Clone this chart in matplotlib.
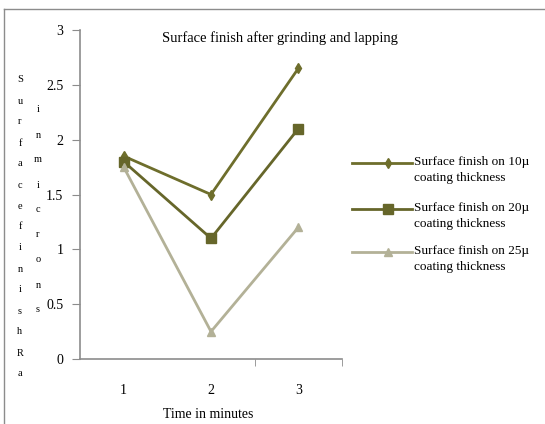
"""Surface finish after grinding and lapping, line chart."""

import matplotlib
matplotlib.use("Agg")
import matplotlib.pyplot as plt
from matplotlib.lines import Line2D

# Data
time_minutes = [1, 2, 3]
finish_10 = [1.85, 1.50, 2.65]
finish_20 = [1.80, 1.10, 2.10]
finish_25 = [1.75, 0.25, 1.20]
series_labels = [
    "Surface finish on 10\u00b5\ncoating thickness",
    "Surface finish on 20\u00b5\ncoating thickness",
    "Surface finish on 25\u00b5\ncoating thickness",
]
y_ticks = [0, 0.5, 1, 1.5, 2, 2.5, 3]
y_label_left = "SurfacefinishRa"
y_label_right = "inmicrons"

colors = ["#6e6e2c", "#66662a", "#b3b197"]
markers = [("d", 5), ("s", 7), ("^", 6)]

plt.rcParams["font.family"] = ["Liberation Serif", "DejaVu Serif"]

W, H = 545, 424
fig = plt.figure(figsize=(W / 100, H / 100), dpi=100)
ax = fig.add_axes([80 / W, 65 / H, 262 / W, 329 / H])

for vals, c, (m, ms) in zip([finish_10, finish_20, finish_25], colors, markers):
    ax.plot(time_minutes, vals, color=c, lw=2, marker=m, ms=ms)

ax.set_xlim(0.5, 3.5)
ax.set_ylim(0, 3)
ax.set_xticks(time_minutes)
ax.set_xticklabels([str(t) for t in time_minutes])
ax.set_xticks([2.5, 3.5], minor=True)
ax.tick_params(axis="x", which="major", length=0, pad=18, labelsize=10)
ax.tick_params(axis="x", which="minor", length=5, color="#8c8c8c", direction="out")
ax.set_yticks(y_ticks)
ax.set_yticklabels([f"{v:g}" for v in y_ticks])
ax.tick_params(axis="y", length=6, color="#8c8c8c", labelsize=10, pad=6)
for side in ["top", "right"]:
    ax.spines[side].set_visible(False)
for side in ["left", "bottom"]:
    ax.spines[side].set_color("#8c8c8c")
    ax.spines[side].set_linewidth(1.2)

fig.text(280 / W, 1 - 38 / H, "Surface finish after grinding and lapping",
         ha="center", va="center", fontsize=10.5)
fig.text(208 / W, 1 - 415 / H, "Time in minutes", ha="center", va="center",
         fontsize=10)

# stacked y label columns
for i, ch in enumerate(y_label_left):
    fig.text(20 / W, 1 - (80 + i * 21) / H, ch, ha="center", va="center",
             fontsize=7.5)
for i, ch in enumerate(y_label_right):
    fig.text(38 / W, 1 - (110 + i * 25) / H, ch, ha="center", va="center",
             fontsize=7.5)

# Legend, drawn by hand so the two-line labels keep their spacing
legend_y = [163, 209, 252]
for y, label, c, (m, ms) in zip(legend_y, series_labels, colors, markers):
    fig.add_artist(Line2D([352 / W, 412 / W], [1 - y / H, 1 - y / H], color=c, lw=2))
    fig.add_artist(Line2D([388 / W], [1 - y / H], color=c, marker=m, ms=ms))
    fig.text(414 / W, 1 - (y - 7) / H, label, ha="left", va="top",
             fontsize=9.5, linespacing=1.45)

# chart border
fig.add_artist(Line2D([4 / W, 4 / W], [0, 1 - 9 / H], color="#8c8c8c", lw=1))
fig.add_artist(Line2D([4 / W, 1], [1 - 9 / H, 1 - 9 / H], color="#8c8c8c", lw=1))

fig.savefig("out.png", dpi=100)
plt.close(fig)
